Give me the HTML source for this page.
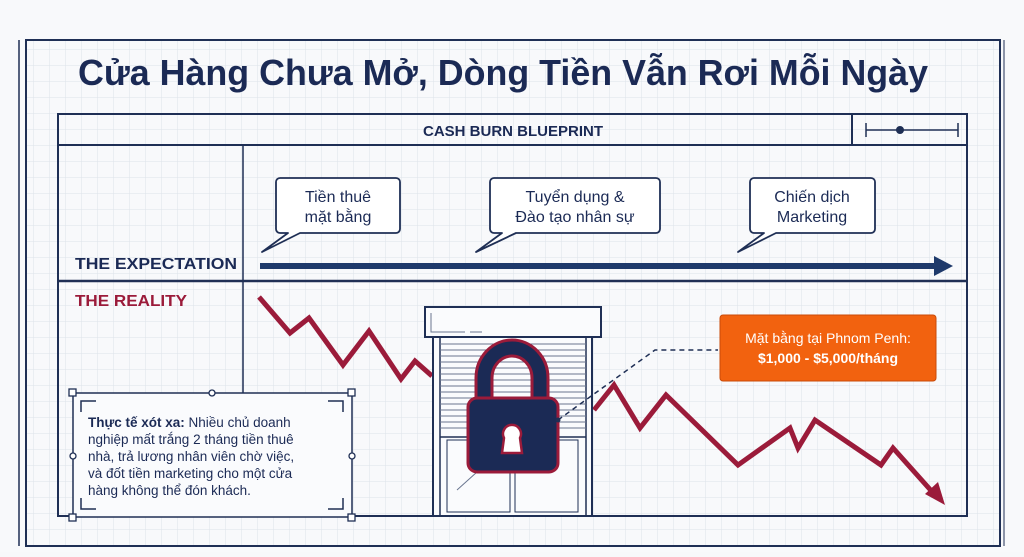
<!DOCTYPE html>
<html><head><meta charset="utf-8"><style>
body{margin:0;width:1024px;height:552px;overflow:hidden;background:#f7f8fa;font-family:"Liberation Sans","Noto Sans CJK SC",sans-serif}
</style></head><body>
<svg width="1024" height="552" viewBox="0 0 1024 552" xmlns="http://www.w3.org/2000/svg" font-family="Liberation Sans, Noto Sans CJK SC, sans-serif">
<defs>
<pattern id="g" width="16" height="16" patternUnits="userSpaceOnUse" x="2" y="2">
<path d="M16 0V16H0" fill="none" stroke="#dde2ea" stroke-width="1"/>
</pattern>
</defs>
<rect width="1024" height="552" fill="#f8f9fb"/>
<rect x="26" y="40" width="974" height="506" fill="url(#g)"/>
<rect x="26" y="40" width="974" height="506" fill="none" stroke="#1f2f55" stroke-width="2"/>
<line x1="19" y1="40" x2="19" y2="546" stroke="#1f2f55" stroke-width="1.5"/>
<line x1="1004" y1="40" x2="1004" y2="546" stroke="#1f2f55" stroke-width="1"/>
<text x="78" y="85" font-size="36" font-weight="bold" fill="#1b2a55" textLength="850" lengthAdjust="spacingAndGlyphs">Cửa Hàng Chưa Mở, Dòng Tiền Vẫn Rơi Mỗi Ngày</text>
<rect x="58" y="114" width="909" height="402" fill="none" stroke="#1f2f55" stroke-width="2"/>
<line x1="58" y1="145" x2="967" y2="145" stroke="#1f2f55" stroke-width="2"/>
<line x1="852" y1="114" x2="852" y2="145" stroke="#1f2f55" stroke-width="2"/>
<text x="513" y="136" text-anchor="middle" font-size="15" font-weight="bold" fill="#1b2a55">CASH BURN BLUEPRINT</text>
<line x1="866" y1="130" x2="958" y2="130" stroke="#1f2f55" stroke-width="1.5"/>
<line x1="866" y1="123" x2="866" y2="137" stroke="#1f2f55" stroke-width="1.5"/>
<line x1="958" y1="123" x2="958" y2="137" stroke="#1f2f55" stroke-width="1.5"/>
<circle cx="900" cy="130" r="4" fill="#1f2f55"/>
<line x1="243" y1="145" x2="243" y2="393" stroke="#1f2f55" stroke-width="1.5"/>
<line x1="58" y1="281" x2="967" y2="281" stroke="#1f2f55" stroke-width="2.5"/>
<text x="75" y="269" font-size="16" font-weight="bold" fill="#1b2a55" textLength="162" lengthAdjust="spacingAndGlyphs">THE EXPECTATION</text>
<text x="75" y="306" font-size="16" font-weight="bold" fill="#9b1b3a" textLength="112" lengthAdjust="spacingAndGlyphs">THE REALITY</text>
<g fill="#fff" stroke="#1f2f55" stroke-width="1.8" stroke-linejoin="round">
<path d="M280 178H396a4 4 0 0 1 4 4V229a4 4 0 0 1-4 4H300L262 252L288 233H280a4 4 0 0 1-4-4V182a4 4 0 0 1 4-4Z"/>
<path d="M494 178H656a4 4 0 0 1 4 4V229a4 4 0 0 1-4 4H516L476 252L502 233H494a4 4 0 0 1-4-4V182a4 4 0 0 1 4-4Z"/>
<path d="M754 178H871a4 4 0 0 1 4 4V229a4 4 0 0 1-4 4H776L738 252L764 233H754a4 4 0 0 1-4-4V182a4 4 0 0 1 4-4Z"/>
</g>
<g font-size="16" fill="#1b2a55" text-anchor="middle">
<text x="338" y="202">Tiền thuê</text><text x="338" y="222">mặt bằng</text>
<text x="575" y="202">Tuyển dụng &amp;</text><text x="575" y="222">Đào tạo nhân sự</text>
<text x="812" y="202">Chiến dịch</text><text x="812" y="222">Marketing</text>
</g>
<line x1="260" y1="266" x2="938" y2="266" stroke="#1f3a6b" stroke-width="6"/>
<path d="M934 256L953 266L934 276Z" fill="#1f3a6b"/>
<polyline points="259,297 290,333 309,318 343,365 369,331 401,379 415,361 432,376" fill="none" stroke="#9b1b3a" stroke-width="5"/>
<polyline points="594,410 614,385 640,428 666,395 738,465 790,428 798,448 815,420 881,465 893,448 935,495" fill="none" stroke="#9b1b3a" stroke-width="5"/>
<path d="M925 494L945 505L938 482Z" fill="#9b1b3a"/>
<rect x="433" y="337" width="159" height="179" fill="#fafbfd" stroke="#1f2f55" stroke-width="2"/>
<line x1="440" y1="337" x2="440" y2="516" stroke="#1f2f55" stroke-width="1.5"/>
<line x1="586" y1="337" x2="586" y2="516" stroke="#1f2f55" stroke-width="1.5"/>
<g stroke="#6a7690" stroke-width="1">
<line x1="440" y1="344" x2="586" y2="344"/><line x1="440" y1="350" x2="586" y2="350"/><line x1="440" y1="356" x2="586" y2="356"/><line x1="440" y1="362" x2="586" y2="362"/><line x1="440" y1="368" x2="586" y2="368"/><line x1="440" y1="374" x2="586" y2="374"/><line x1="440" y1="380" x2="586" y2="380"/><line x1="440" y1="386" x2="586" y2="386"/><line x1="440" y1="392" x2="586" y2="392"/><line x1="440" y1="398" x2="586" y2="398"/><line x1="440" y1="404" x2="586" y2="404"/><line x1="440" y1="410" x2="586" y2="410"/><line x1="440" y1="416" x2="586" y2="416"/><line x1="440" y1="422" x2="586" y2="422"/><line x1="440" y1="428" x2="586" y2="428"/>
</g>
<line x1="440" y1="437" x2="586" y2="437" stroke="#1f2f55" stroke-width="1.5"/>
<rect x="447" y="440" width="63" height="72" fill="none" stroke="#1f2f55" stroke-width="1"/>
<rect x="515" y="440" width="63" height="72" fill="none" stroke="#1f2f55" stroke-width="1"/>
<line x1="457" y1="490" x2="477" y2="472" stroke="#6a7690"/>
<rect x="425" y="307" width="176" height="30" fill="#fafbfd" stroke="#1f2f55" stroke-width="2"/>
<polyline points="431,313 431,332 465,332" fill="none" stroke="#6a7690" stroke-width="1"/>
<line x1="470" y1="332" x2="482" y2="332" stroke="#6a7690"/>
<path d="M484 400V378a28 30 0 0 1 56 0V400" fill="none" stroke="#9b1b3a" stroke-width="19"/>
<path d="M484 400V378a28 30 0 0 1 56 0V400" fill="none" stroke="#1b2a55" stroke-width="13"/>
<rect x="468" y="398" width="90" height="74" rx="9" fill="#1b2a55" stroke="#9b1b3a" stroke-width="3"/>
<path d="M504 438a9 9 0 1 1 16 0L522 453H502Z" fill="#fff" stroke="#9b1b3a" stroke-width="2.5"/>
<polyline points="558,420 655,350 718,350" fill="none" stroke="#1f2f55" stroke-width="1.5" stroke-dasharray="5,4"/>
<circle cx="558" cy="420" r="2.5" fill="#1f2f55"/>
<rect x="720" y="315" width="216" height="66" rx="3" fill="#f2620f" stroke="#c94a08" stroke-width="1"/>
<text x="828" y="343" text-anchor="middle" font-size="14" fill="#fff">Mặt bằng tại Phnom Penh:</text>
<text x="828" y="363" text-anchor="middle" font-size="14" font-weight="bold" fill="#fff">$1,000 - $5,000/tháng</text>
<rect x="73" y="393" width="279" height="124" fill="#fafbfd" stroke="#1f2f55" stroke-width="1.5"/>
<g fill="#fff" stroke="#1f2f55" stroke-width="1.3">
<rect x="69" y="389" width="7" height="7"/><rect x="348" y="389" width="7" height="7"/><rect x="69" y="514" width="7" height="7"/><rect x="348" y="514" width="7" height="7"/>
<circle cx="212" cy="393" r="3"/><circle cx="73" cy="456" r="3"/><circle cx="352" cy="456" r="3"/>
</g>
<g fill="none" stroke="#1f2f55" stroke-width="1.5">
<polyline points="81,412 81,401 96,401"/><polyline points="328,401 343,401 343,412"/>
<polyline points="81,498 81,509 96,509"/><polyline points="328,509 343,509 343,498"/>
</g>
<g font-size="13.5" fill="#1b2a55">
<text x="88" y="427"><tspan font-weight="bold">Thực tế xót xa:</tspan> Nhiều chủ doanh</text>
<text x="88" y="444">nghiệp mất trắng 2 tháng tiền thuê</text>
<text x="88" y="461">nhà, trả lương nhân viên chờ việc,</text>
<text x="88" y="478">và đốt tiền marketing cho một cửa</text>
<text x="88" y="495">hàng không thể đón khách.</text>
</g>
</svg>
</body></html>
